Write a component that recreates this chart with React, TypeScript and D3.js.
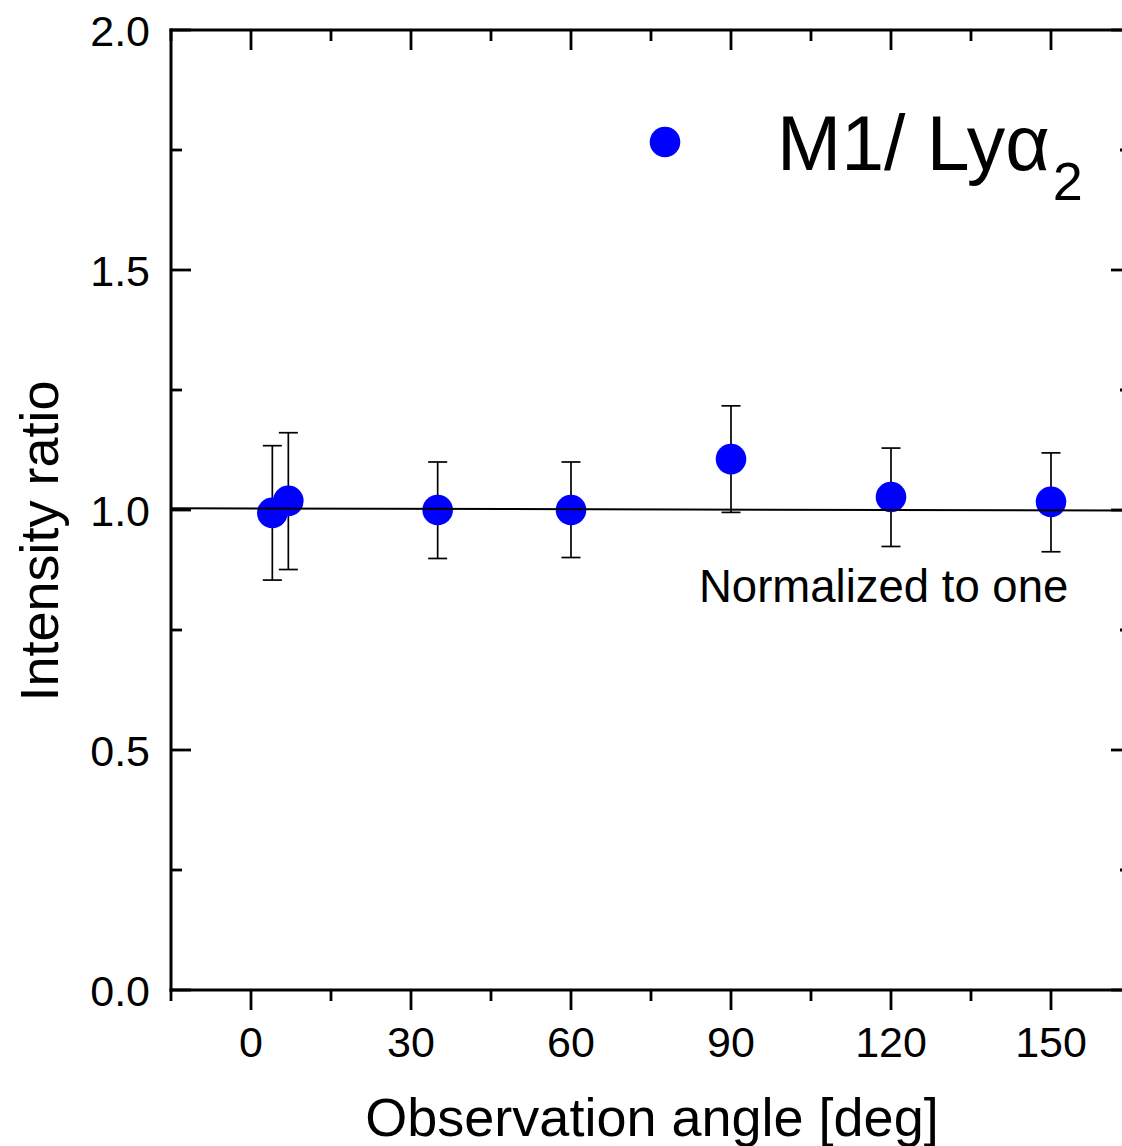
import React from "react";
import * as d3 from "d3";

const angles = [4, 7, 35, 60, 90, 120, 150];
const ratios = [0.994, 1.019, 1.0, 1.0, 1.106, 1.027, 1.017];
const errUpper = [1.134, 1.161, 1.1, 1.1, 1.217, 1.129, 1.119];
const errLower = [0.854, 0.876, 0.899, 0.901, 0.995, 0.924, 0.913];

const fitX = [-15, 165];
const fitY = [1.0035, 0.999];

const xMajor = [0, 30, 60, 90, 120, 150];
const xMinor = [-15, 15, 45, 75, 105, 135, 165];
const yMajor = [0.0, 0.5, 1.0, 1.5, 2.0];
const yMinor = [0.25, 0.75, 1.25, 1.75];

const W = 1122;
const H = 1146;
const left = 171;
const right = 1131;
const top = 30;
const bottom = 990;

export default function App() {
  const x = d3.scaleLinear().domain([-15, 165]).range([left, right]);
  const y = d3.scaleLinear().domain([0, 2]).range([bottom, top]);
  const line = d3
    .line<number>()
    .x((_, i) => x(fitX[i]))
    .y((d) => y(d));
  const font = "Arial, 'Liberation Sans', Helvetica, sans-serif";
  const maj = 20;
  const min = 11;
  const capW = 9.5;
  return (
    <svg
      width={W}
      height={H}
      style={{ position: "absolute", left: 0, top: 0, background: "#fff" }}
      fontFamily={font}
    >
      <rect x={0} y={0} width={W} height={H} fill="#fff" />
      {/* error bars */}
      {angles.map((a, i) => (
        <g key={"e" + i} stroke="#000" strokeWidth={1.7}>
          <line x1={x(a)} x2={x(a)} y1={y(errUpper[i])} y2={y(errLower[i])} />
          <line x1={x(a) - capW} x2={x(a) + capW} y1={y(errUpper[i])} y2={y(errUpper[i])} />
          <line x1={x(a) - capW} x2={x(a) + capW} y1={y(errLower[i])} y2={y(errLower[i])} />
        </g>
      ))}
      {/* points */}
      {angles.map((a, i) => (
        <circle key={"p" + i} cx={x(a)} cy={y(ratios[i])} r={15.3} fill="#0000ff" />
      ))}
      {/* fit line */}
      <path d={line(fitY) || ""} fill="none" stroke="#000" strokeWidth={2} />

      {/* frame */}
      <g stroke="#000" strokeWidth={3} fill="none">
        <line x1={left} x2={left} y1={top - 1.5} y2={bottom + 1.5} />
        <line x1={right} x2={right} y1={top - 1.5} y2={bottom + 1.5} />
        <line x1={left - 1.5} x2={right + 1.5} y1={top} y2={top} />
        <line x1={left - 1.5} x2={right + 1.5} y1={bottom} y2={bottom} />
      </g>
      {/* ticks */}
      <g stroke="#000" strokeWidth={2.8}>
        {xMajor.map((v) => (
          <g key={"xm" + v}>
            <line x1={x(v)} x2={x(v)} y1={bottom} y2={bottom + maj} />
            <line x1={x(v)} x2={x(v)} y1={top} y2={top + maj} />
          </g>
        ))}
        {xMinor.map((v) => (
          <g key={"xn" + v}>
            <line x1={x(v)} x2={x(v)} y1={bottom} y2={bottom + min} />
            <line x1={x(v)} x2={x(v)} y1={top} y2={top + min} />
          </g>
        ))}
        {yMajor.map((v) => (
          <g key={"ym" + v}>
            <line x1={left} x2={left + maj} y1={y(v)} y2={y(v)} />
            <line x1={right} x2={right - maj} y1={y(v)} y2={y(v)} />
          </g>
        ))}
        {yMinor.map((v) => (
          <g key={"yn" + v}>
            <line x1={left} x2={left + min} y1={y(v)} y2={y(v)} />
            <line x1={right} x2={right - min} y1={y(v)} y2={y(v)} />
          </g>
        ))}
      </g>
      {/* tick labels */}
      <g fontSize={43} fill="#000">
        {xMajor.map((v) => (
          <text key={"xl" + v} x={x(v)} y={1057} textAnchor="middle">
            {d3.format("d")(v)}
          </text>
        ))}
        {yMajor.map((v) => (
          <text key={"yl" + v} x={150} y={y(v) + 15.5} textAnchor="end">
            {d3.format(".1f")(v)}
          </text>
        ))}
      </g>
      {/* axis titles */}
      <text x={652} y={1136} textAnchor="middle" fontSize={54} fill="#000">
        Observation angle [deg]
      </text>
      <text
        transform={`translate(58, 541) rotate(-90)`}
        textAnchor="middle"
        fontSize={54}
        fill="#000"
      >
        Intensity ratio
      </text>
      {/* annotation */}
      <text x={699} y={602} fontSize={45.5} fill="#000">
        Normalized to one
      </text>
      {/* legend */}
      <circle cx={665} cy={142} r={15.3} fill="#0000ff" />
      <text x={777} y={170} fontSize={77} fill="#000">
        M1/ Lyα
        <tspan fontSize={54} dx={3} dy={30}>
          2
        </tspan>
      </text>
    </svg>
  );
}
